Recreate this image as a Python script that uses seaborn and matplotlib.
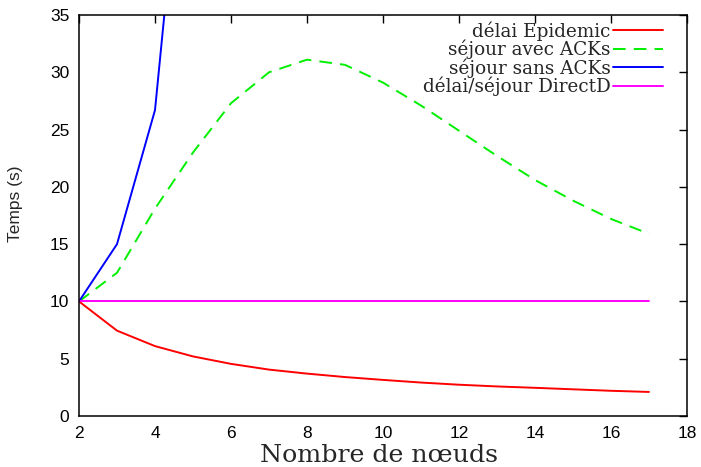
import numpy as np
import pandas as pd
import matplotlib
matplotlib.use('Agg')
import matplotlib.pyplot as plt
import seaborn as sns

# Data
noeuds = [2, 3, 4, 5, 6, 7, 8, 9, 10, 11, 12, 13, 14, 15, 16, 17]
delai_epidemic = [10, 7.45, 6.1, 5.2, 4.55, 4.05, 3.7, 3.4, 3.15, 2.92, 2.73, 2.58, 2.46, 2.33, 2.2, 2.1]
sejour_avec_acks = [10, 12.5, 18.1, 23, 27.3, 30.0, 31.1, 30.65, 29.1, 27.1, 24.9, 22.7, 20.6, 18.8, 17.2, 15.9]
noeuds_sans = [2, 3, 4, 5]
sejour_sans_acks = [10, 15, 26.7, 60.5]
directd = [10] * len(noeuds)

labels = ['délai Epidemic', 'séjour avec ACKs', 'séjour sans ACKs', 'délai/séjour DirectD']
colors = ['#ff0000', '#00f000', '#0000ff', '#ff00ff']

sns.set_style('white')
plt.rcParams['font.family'] = ['Liberation Sans', 'DejaVu Sans']
serif = ['DejaVu Serif']

fig = plt.figure(figsize=(7.01, 4.67), dpi=100)
ax = fig.add_axes([79 / 701, 1 - 416 / 467, (687 - 79) / 701, (416 - 15) / 467])

lw = 1.4
sns.lineplot(x=noeuds, y=delai_epidemic, ax=ax, color=colors[0], lw=lw, label=labels[0])
sns.lineplot(x=noeuds, y=sejour_avec_acks, ax=ax, color=colors[1], lw=lw, label=labels[1])
ax.lines[-1].set_dashes((6.5, 4.2))
sns.lineplot(x=noeuds_sans, y=sejour_sans_acks, ax=ax, color=colors[2], lw=lw, label=labels[2])
sns.lineplot(x=noeuds, y=directd, ax=ax, color=colors[3], lw=lw, label=labels[3])

ax.set_xlim(2, 18)
ax.set_ylim(0, 35)
ax.set_xticks(range(2, 19, 2))
ax.set_yticks(range(0, 36, 5))
ax.tick_params(direction='in', length=6, width=1, top=True, right=True,
               labelsize=12.5, colors='black', pad=7)
for s in ax.spines.values():
    s.set_color('black')
    s.set_linewidth(1.1)

ax.set_xlabel('Nombre de nœuds', family=serif, fontsize=18.2)
ax.xaxis.set_label_coords(0.493, -0.07)
ax.set_ylabel('Temps (s)', fontsize=12.5)
ax.yaxis.set_label_coords(-0.092, 0.529)

leg = ax.legend(loc='upper right', bbox_to_anchor=(0.973, 1.003), frameon=False,
                markerfirst=False, handlelength=2.75, handletextpad=0.12,
                labelspacing=-0.05, borderaxespad=0, prop={'family': serif, 'size': 13.2})

fig.savefig('out.png', dpi=100)
